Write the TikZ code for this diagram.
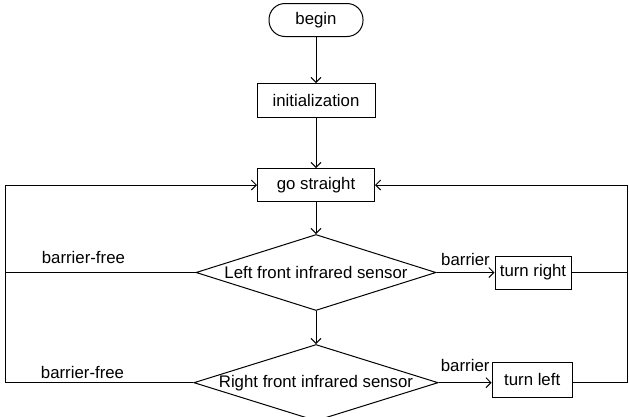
\documentclass[tikz,border=0pt]{standalone}
\usepackage{fontspec}
\setmainfont{Liberation Sans}
\usetikzlibrary{shapes,positioning,calc,arrows.meta}

\begin{document}
\begin{tikzpicture}
  [x=1pt,y=-1pt,
   startN/.style={draw,rounded corners=16pt,minimum width=94pt,minimum height=33pt,line width=1pt},
   procN/.style={draw,minimum height=34pt,inner xsep=4pt,line width=1pt},
   testN/.style={diamond,draw,aspect=3.2,inner sep=0pt,minimum width=240pt,minimum height=76pt,line width=1pt},
   flow/.style={line width=1pt,-{Straight Barb[length=5pt,width=10pt]}},
   wire/.style={line width=1pt},
   font=\fontsize{16.8}{20}\selectfont]

  \useasboundingbox (0,0) rectangle (629,416);

  \node[startN] (begin) at (316,20) {begin};
  \node[procN,minimum width=118pt] (init) [below=46pt of begin] {initialization};
  \node[procN,minimum width=117pt,minimum height=33pt] (go) [below=50pt of init] {go straight};
  \node[testN] (left) [below=32pt of go] {Left front infrared sensor};
  \node[testN] (right) [below=33pt of left] {Right front infrared sensor};
  \node[procN,minimum width=76pt,minimum height=33pt] (tr) [right=58pt of left] {turn right};
  \node[procN,minimum width=80pt,minimum height=35pt,yshift=3pt] (tl) [right=53pt of right] {turn left};

  \coordinate (lft) at (5.5,0);
  \coordinate (rgt) at (627,0);

  \draw [flow] (begin) -- (init);
  \draw [flow] (init) -- (go);
  \draw [flow] (go) -- (left);
  \draw [flow] (left) -- (right);
  \draw [flow] (left.east) -- node[above=3pt] {barrier} (tr);
  \draw [flow] (right.east) -- node[above=7pt] {barrier} (right.east -| tl.west);

  % loops back to go straight
  \draw [wire] (left.west) -- node[pos=.59,above=5pt] {barrier-free} (left.west -| lft);
  \draw [flow] (right.west) -- node[pos=.59,above=0pt] {barrier-free} (right.west -| lft) |- (go.west);
  \draw [wire] (right.east -| tl.east) -- (right.east -| rgt);
  \draw [wire] (tr.east) -- (tr.east -| rgt);
  \draw [flow] (right.east -| rgt) |- (go.east);

\end{tikzpicture}
\end{document}
